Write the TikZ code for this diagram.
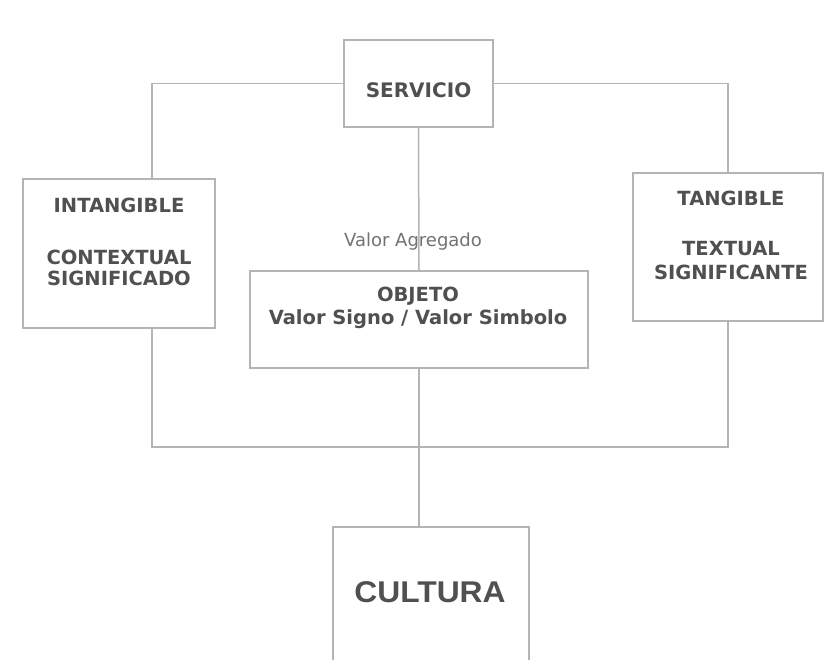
\documentclass[tikz,border=0pt]{standalone}
\usepackage{fontspec}
\newfontfamily\labfont{DejaVu Sans}
\newfontfamily\cultfont{Liberation Sans}[FakeStretch=1.06]
\definecolor{linegray}{HTML}{B4B4B4}
\definecolor{txtgray}{HTML}{505050}
\begin{document}
\begin{tikzpicture}[x=1pt,y=-1pt,
  box/.style={draw=linegray, line width=1.5pt, minimum width=#1, inner sep=0pt, outer sep=0pt},
  lab/.style={text=txtgray, align=center, inner sep=0pt, font=\labfont\bfseries\fontsize{20}{22}\selectfont},
  conn/.style={draw=linegray, line width=1.5pt}]
\useasboundingbox (0,0) rectangle (827,660);
\clip (0,0) rectangle (827,660);
\fill[white] (0,0) rectangle (827,660);
% boxes
\node[box=149pt, minimum height=87pt] (serv) at (418.5,83.5) {};
\node[box=192pt, minimum height=149pt] (intang) at (119,253.5) {};
\node[box=190pt, minimum height=148pt] (tang) at (728,247) {};
\node[box=338pt, minimum height=97pt] (obj) at (419,319.5) {};
\node[box=196pt, minimum height=150pt] (cult) at (431,602) {};
% texts
\node[lab] (servt) at (418.5,90) {SERVICIO};
\node[lab, font=\labfont\bfseries\fontsize{19.5}{21}\selectfont] (intangt) at (119,242) {INTANGIBLE\\[31pt]CONTEXTUAL\\SIGNIFICADO};
\node[lab, font=\labfont\bfseries\fontsize{19.5}{24}\selectfont] (tangt) at (731,235) {TANGIBLE\\[26pt]TEXTUAL\\SIGNIFICANTE};
\node[lab, font=\labfont\bfseries\fontsize{19.5}{23}\selectfont] (objt) at (418,307.5) {OBJETO\\Valor Signo / Valor Simbolo};
\node[text=txtgray!80, inner sep=0pt, font=\labfont\fontsize{18}{20}\selectfont] (va) at (413,242) {Valor Agregado};
\node[text=txtgray, inner sep=0pt, font=\cultfont\bfseries\fontsize{30}{34}\selectfont] (cultt) at (430,592) {CULTURA};
% connectors
\coordinate (j) at (419,447);
\draw[conn] (serv.west) -| ([xshift=33pt]intang.north);
\draw[conn] (serv.east) -| (tang.north);
\draw[conn] (serv.south) -- (obj.north);
\draw[conn] ([xshift=33pt]intang.south) |- (j) -| (tang.south);
\draw[conn] (obj.south) -- (obj.south |- cult.north);
\end{tikzpicture}
\end{document}
